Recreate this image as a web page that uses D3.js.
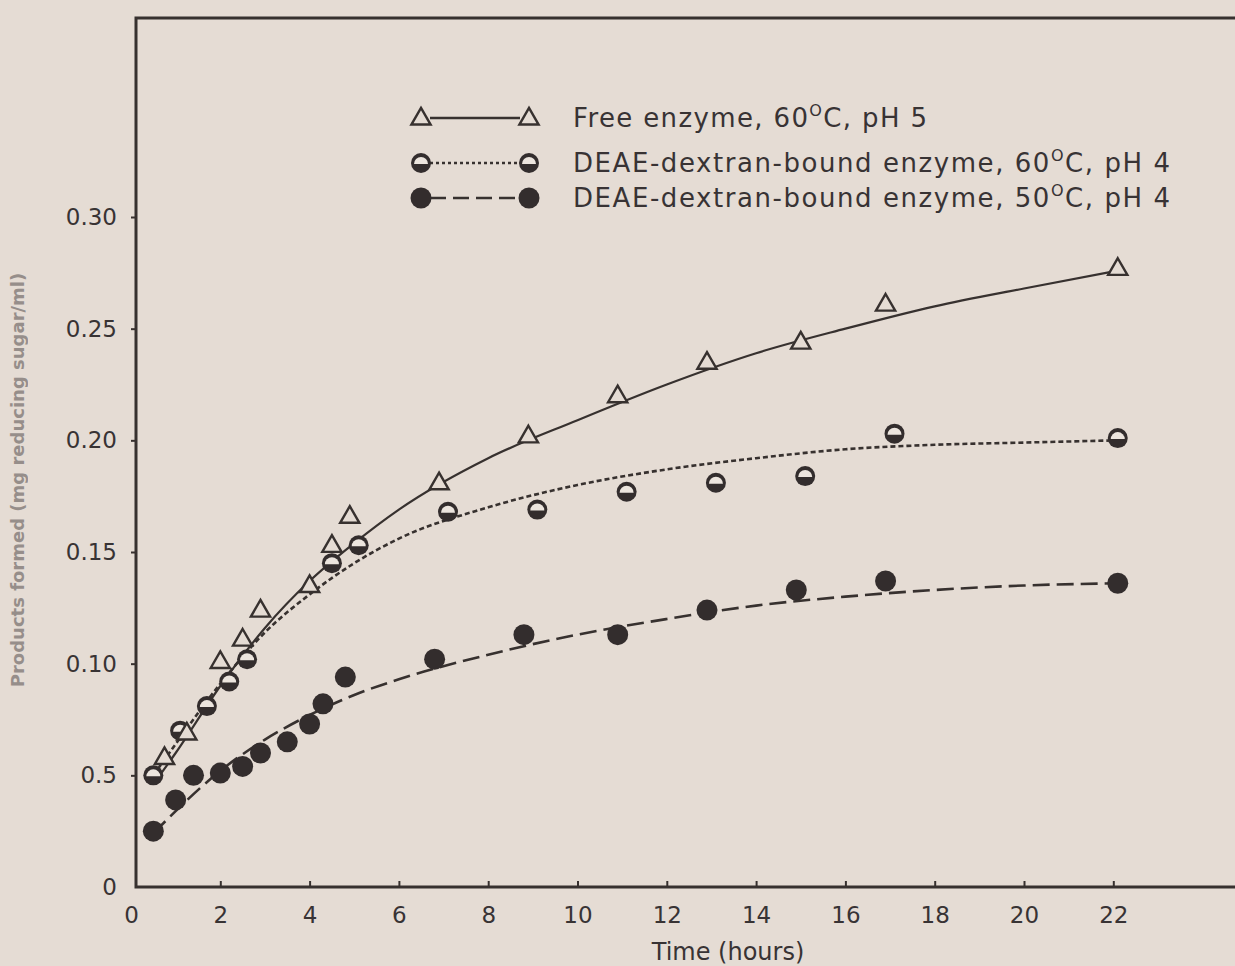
<!DOCTYPE html>
<html>
<head>
<meta charset="utf-8">
<script src="https://cdn.jsdelivr.net/npm/d3@7"></script>
<style>
  body { margin: 0; background: #e5dcd4; overflow: hidden; }
  text { font-family: "DejaVu Sans", sans-serif; fill: #383334; }
</style>
</head>
<body>
<div id="viz"></div>
<script>
// measured points
const freeT = [0.75, 1.25, 2, 2.5, 2.9, 4, 4.5, 4.9, 6.9, 8.9, 10.9, 12.9, 15, 16.9, 22.1];
const freeV = [0.058, 0.069, 0.101, 0.111, 0.124, 0.135, 0.153, 0.166, 0.181, 0.202, 0.220, 0.235, 0.244, 0.261, 0.277];

const deae60T = [0.5, 1.1, 1.7, 2.2, 2.6, 4.5, 5.1, 7.1, 9.1, 11.1, 13.1, 15.1, 17.1, 22.1];
const deae60V = [0.050, 0.070, 0.081, 0.092, 0.102, 0.145, 0.153, 0.168, 0.169, 0.177, 0.181, 0.184, 0.203, 0.201];

const deae50T = [0.5, 1, 1.4, 2, 2.5, 2.9, 3.5, 4, 4.3, 4.8, 6.8, 8.8, 10.9, 12.9, 14.9, 16.9, 22.1];
const deae50V = [0.025, 0.039, 0.050, 0.051, 0.054, 0.060, 0.065, 0.073, 0.082, 0.094, 0.102, 0.113, 0.113, 0.124, 0.133, 0.137, 0.136];

// fitted curves
const fitT = [0.5, 1, 2, 3, 4, 5, 6, 8, 10, 12, 14, 16, 18, 20, 22.1];
const fitFree = [0.046, 0.060, 0.090, 0.116, 0.137, 0.154, 0.169, 0.192, 0.209, 0.225, 0.239, 0.250, 0.260, 0.268, 0.276];
const fitDeae60 = [0.050, 0.064, 0.091, 0.114, 0.131, 0.145, 0.156, 0.170, 0.180, 0.187, 0.192, 0.196, 0.198, 0.199, 0.200];
const fitDeae50 = [0.024, 0.034, 0.052, 0.066, 0.077, 0.086, 0.093, 0.104, 0.113, 0.120, 0.126, 0.130, 0.133, 0.135, 0.136];

const xTicks = [0, 2, 4, 6, 8, 10, 12, 14, 16, 18, 20, 22];
const yTicks = [0, 0.05, 0.10, 0.15, 0.20, 0.25, 0.30];
const yTickLabels = ["0", "0.5", "0.10", "0.15", "0.20", "0.25", "0.30"];

const legendItems = [
    { kind: "tri", dash: null, label: "Free enzyme, 60", tail: "C, pH 5", len: 354 },
    { kind: "half", dash: "3,3", label: "DEAE-dextran-bound enzyme, 60", tail: "C, pH 4", len: 597 },
    { kind: "dot", dash: "16,7", label: "DEAE-dextran-bound enzyme, 50", tail: "C, pH 4", len: 597 }
];

const width = 1235;
const height = 966;
const ink = "#37312f";
const paper = "#e5dcd4";

const svg = d3.select("#viz").append("svg")
    .attr("width", width)
    .attr("height", height);

const x = d3.scaleLinear().domain([0, 25]).range([131, 131 + 25 * 44.65]);
const y = d3.scaleLinear().domain([0, 0.3]).range([887, 217]);

// frame
svg.append("rect")
    .attr("x", 136).attr("y", 18)
    .attr("width", 1200).attr("height", 869)
    .attr("fill", "none")
    .attr("stroke", ink)
    .attr("stroke-width", 3);

// x axis
const xAxis = svg.append("g").attr("transform", "translate(0,887)")
    .call(d3.axisBottom(x).tickValues(xTicks).tickSize(-6).tickPadding(20).tickFormat(d3.format("d")));
xAxis.select(".domain").remove();
xAxis.selectAll("line").attr("stroke", ink).attr("stroke-width", 2);
xAxis.selectAll("text").attr("font-size", 23).style("font-family", "DejaVu Sans, sans-serif").style("fill", "#383334");
xAxis.selectAll(".tick").filter(d => d === 0).select("line").remove();

// y axis
const yAxis = svg.append("g").attr("transform", "translate(136,0)")
    .call(d3.axisLeft(y).tickValues(yTicks).tickSize(5).tickPadding(14).tickFormat((d, i) => yTickLabels[i]));
yAxis.select(".domain").remove();
yAxis.selectAll("line").attr("stroke", ink).attr("stroke-width", 2);
yAxis.selectAll("text").attr("font-size", 23).style("font-family", "DejaVu Sans, sans-serif").style("fill", "#383334");
yAxis.selectAll(".tick").filter(d => d === 0).select("line").remove();

svg.append("text")
    .attr("x", 728).attr("y", 960)
    .attr("text-anchor", "middle")
    .attr("font-size", 24)
    .text("Time (hours)");

svg.append("text")
    .attr("transform", "translate(24,480) rotate(-90)")
    .attr("text-anchor", "middle")
    .attr("font-size", 18)
    .attr("font-weight", "bold")
    .style("fill", "#7c7472")
    .attr("opacity", 0.75)
    .text("Products formed (mg reducing sugar/ml)");

// fitted curves
const line = d3.line()
    .x(d => x(d[0]))
    .y(d => y(d[1]))
    .curve(d3.curveMonotoneX);

const fits = [
    { v: fitFree, dash: null, w: 2.2 },
    { v: fitDeae60, dash: "5,3", w: 2.6 },
    { v: fitDeae50, dash: "17,7", w: 2.6 }
];

svg.selectAll("path.fit")
    .data(fits)
    .enter()
    .append("path")
    .attr("class", "fit")
    .attr("d", f => line(fitT.map((t, i) => [t, f.v[i]])))
    .attr("fill", "none")
    .attr("stroke", ink)
    .attr("stroke-width", f => f.w)
    .attr("stroke-dasharray", f => f.dash);

// markers
const tri = d3.symbol().type(d3.symbolTriangle).size(160);

function drawTri(g, cx, cy) {
    g.append("path")
        .attr("d", tri())
        .attr("transform", `translate(${cx},${cy + 1})`)
        .attr("fill", paper)
        .attr("stroke", ink)
        .attr("stroke-width", 2.4);
}

function drawDot(g, cx, cy) {
    g.append("circle")
        .attr("cx", cx).attr("cy", cy).attr("r", 10.5)
        .attr("fill", "#332d2d");
}

function drawHalf(g, cx, cy) {
    g.append("circle")
        .attr("cx", cx).attr("cy", cy).attr("r", 10)
        .attr("fill", "#332d2d");
    g.append("path")
        .attr("d", d3.arc()({ innerRadius: 0, outerRadius: 7, startAngle: -Math.PI / 2, endAngle: Math.PI / 2 }))
        .attr("transform", `translate(${cx},${cy + 1})`)
        .attr("fill", "#ece5de");
}

const marks = svg.append("g");
deae50T.forEach((t, i) => drawDot(marks, x(t), y(deae50V[i])));
deae60T.forEach((t, i) => drawHalf(marks, x(t), y(deae60V[i])));
freeT.forEach((t, i) => drawTri(marks, x(t), y(freeV[i])));

// legend
const legend = svg.append("g");
const rowY = [118, 163, 198];
legendItems.forEach((it, i) => {
    const ly = rowY[i];
    legend.append("line")
        .attr("x1", 430).attr("x2", 520)
        .attr("y1", ly).attr("y2", ly)
        .attr("stroke", ink)
        .attr("stroke-width", 2.5)
        .attr("stroke-dasharray", it.dash);
    const draw = it.kind === "tri" ? drawTri : it.kind === "half" ? drawHalf : drawDot;
    draw(legend, 421, ly);
    draw(legend, 529, ly);
    const txt = legend.append("text")
        .attr("x", 573).attr("y", ly + 9)
        .attr("font-size", 26)
        .attr("textLength", it.len)
        .attr("lengthAdjust", "spacing");
    txt.append("tspan").text(it.label);
    txt.append("tspan").attr("dy", -11).attr("font-size", 16).text("O");
    txt.append("tspan").attr("dy", 11).text(it.tail);
});
</script>
</body>
</html>
